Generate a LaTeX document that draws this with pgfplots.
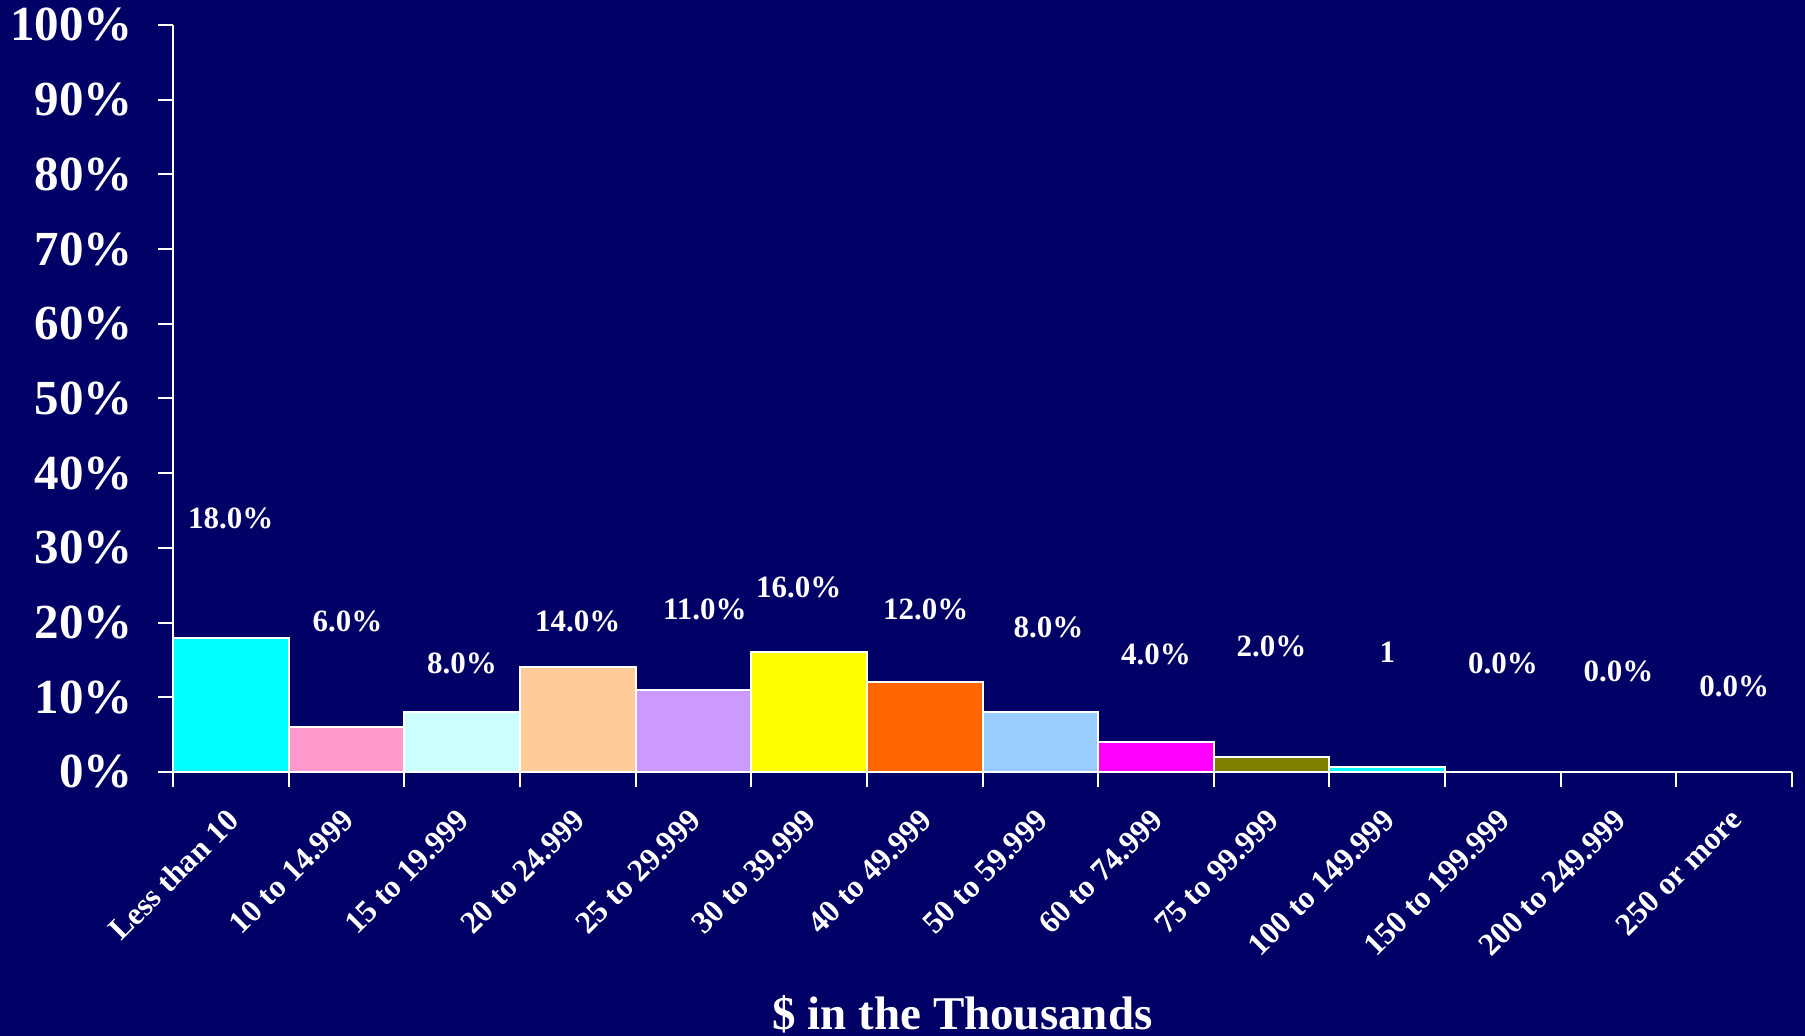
\documentclass[border=0pt]{standalone}
\usepackage{pgfplots}
\pgfplotsset{compat=1.18}
\usepackage{fontspec}
\setmainfont{Liberation Serif}
\definecolor{bg}{RGB}{0,0,102}
\definecolor{c1}{RGB}{0,255,255}
\definecolor{c2}{RGB}{255,153,204}
\definecolor{c3}{RGB}{204,255,255}
\definecolor{c4}{RGB}{255,204,153}
\definecolor{c5}{RGB}{204,153,255}
\definecolor{c6}{RGB}{255,255,0}
\definecolor{c7}{RGB}{255,102,0}
\definecolor{c8}{RGB}{153,204,255}
\definecolor{c9}{RGB}{255,0,255}
\definecolor{c10}{RGB}{128,128,0}
\definecolor{c11}{RGB}{0,255,255}
\begin{document}
\begin{tikzpicture}
\fill[bg] (-86.5pt,-132pt) rectangle (816pt,386pt);
\begin{axis}[
  at={(0,0)}, anchor=south west,
  scale only axis, width=809.5pt, height=373.5pt,
  xmin=-0.5, xmax=13.5, ymin=0, ymax=100,
  axis x line=bottom, axis y line=left,
  axis line style={white, line width=1pt, -},
  tick align=outside,
  major tick length=7.5pt,
  tick style={white, line width=1pt},
  xtick={-0.5,0.5,...,13.5}, xticklabels={},
  extra x ticks={0,1,...,13},
  extra x tick labels={Less than 10,10 to 14.999,15 to 19.999,20 to 24.999,25 to 29.999,30 to 39.999,40 to 49.999,50 to 59.999,60 to 74.999,75 to 99.999,100 to 149.999,150 to 199.999,200 to 249.999,250 or more},
  extra x tick style={major tick length=0pt},
  xticklabel style={rotate=45, anchor=north east, inner sep=0pt, xshift=-14.3pt, yshift=-10.2pt, font=\fontsize{15.8}{18}\selectfont\bfseries, text=white},
  ytick={0,10,...,100},
  yticklabels={0\%,10\%,20\%,30\%,40\%,50\%,60\%,70\%,80\%,90\%,100\%},
  yticklabel style={anchor=east, inner sep=0pt, xshift=-12.5pt, font=\fontsize{24.5}{28}\selectfont\bfseries, text=white},
  xlabel={\$ in the Thousands},
  xlabel style={at={(axis description cs:0.5,0)}, anchor=base, yshift=-129pt, xshift=-10pt, font=\fontsize{23.5}{28}\selectfont\bfseries, text=white},
  clip=false,
]
\addplot[ybar, bar width=1, bar shift=0pt, fill=c1, draw=white, line width=1pt] coordinates {(0,18)};
\addplot[ybar, bar width=1, bar shift=0pt, fill=c2, draw=white, line width=1pt] coordinates {(1,6)};
\addplot[ybar, bar width=1, bar shift=0pt, fill=c3, draw=white, line width=1pt] coordinates {(2,8)};
\addplot[ybar, bar width=1, bar shift=0pt, fill=c4, draw=white, line width=1pt] coordinates {(3,14)};
\addplot[ybar, bar width=1, bar shift=0pt, fill=c5, draw=white, line width=1pt] coordinates {(4,11)};
\addplot[ybar, bar width=1, bar shift=0pt, fill=c6, draw=white, line width=1pt] coordinates {(5,16)};
\addplot[ybar, bar width=1, bar shift=0pt, fill=c7, draw=white, line width=1pt] coordinates {(6,12)};
\addplot[ybar, bar width=1, bar shift=0pt, fill=c8, draw=white, line width=1pt] coordinates {(7,8)};
\addplot[ybar, bar width=1, bar shift=0pt, fill=c9, draw=white, line width=1pt] coordinates {(8,4)};
\addplot[ybar, bar width=1, bar shift=0pt, fill=c10, draw=white, line width=1pt] coordinates {(9,2)};
\addplot[ybar, bar width=1, bar shift=0pt, fill=c11, draw=white, line width=1pt] coordinates {(10,0.7)};
\addplot[ybar, bar width=1, bar shift=0pt, fill=white, draw=white, line width=1pt] coordinates {(11,0) (12,0) (13,0)};
\addplot[draw=none, mark=none, nodes near coords, point meta=explicit symbolic,
  nodes near coords align={center},
  every node near coord/.append style={font=\fontsize{15.5}{18}\selectfont\bfseries, text=white, inner sep=0pt}]
  table[x=x, y=y, meta=lab] {
x y lab
0 33.9 18.0\%
1.01 20.1 6.0\%
2.0 14.6 8.0\%
3.0 20.1 14.0\%
4.1 21.8 11.0\%
4.91 24.7 16.0\%
6.01 21.8 12.0\%
7.07 19.3 8.0\%
8.0 15.8 4.0\%
9.0 16.8 2.0\%
10.0 16.0 1
11.0 14.6 0.0\%
12.0 13.5 0.0\%
13.0 11.5 0.0\%
};
\end{axis}
\pgfresetboundingbox
\useasboundingbox (-86.5pt,-132pt) rectangle (816pt,386pt);
\end{tikzpicture}
\end{document}
